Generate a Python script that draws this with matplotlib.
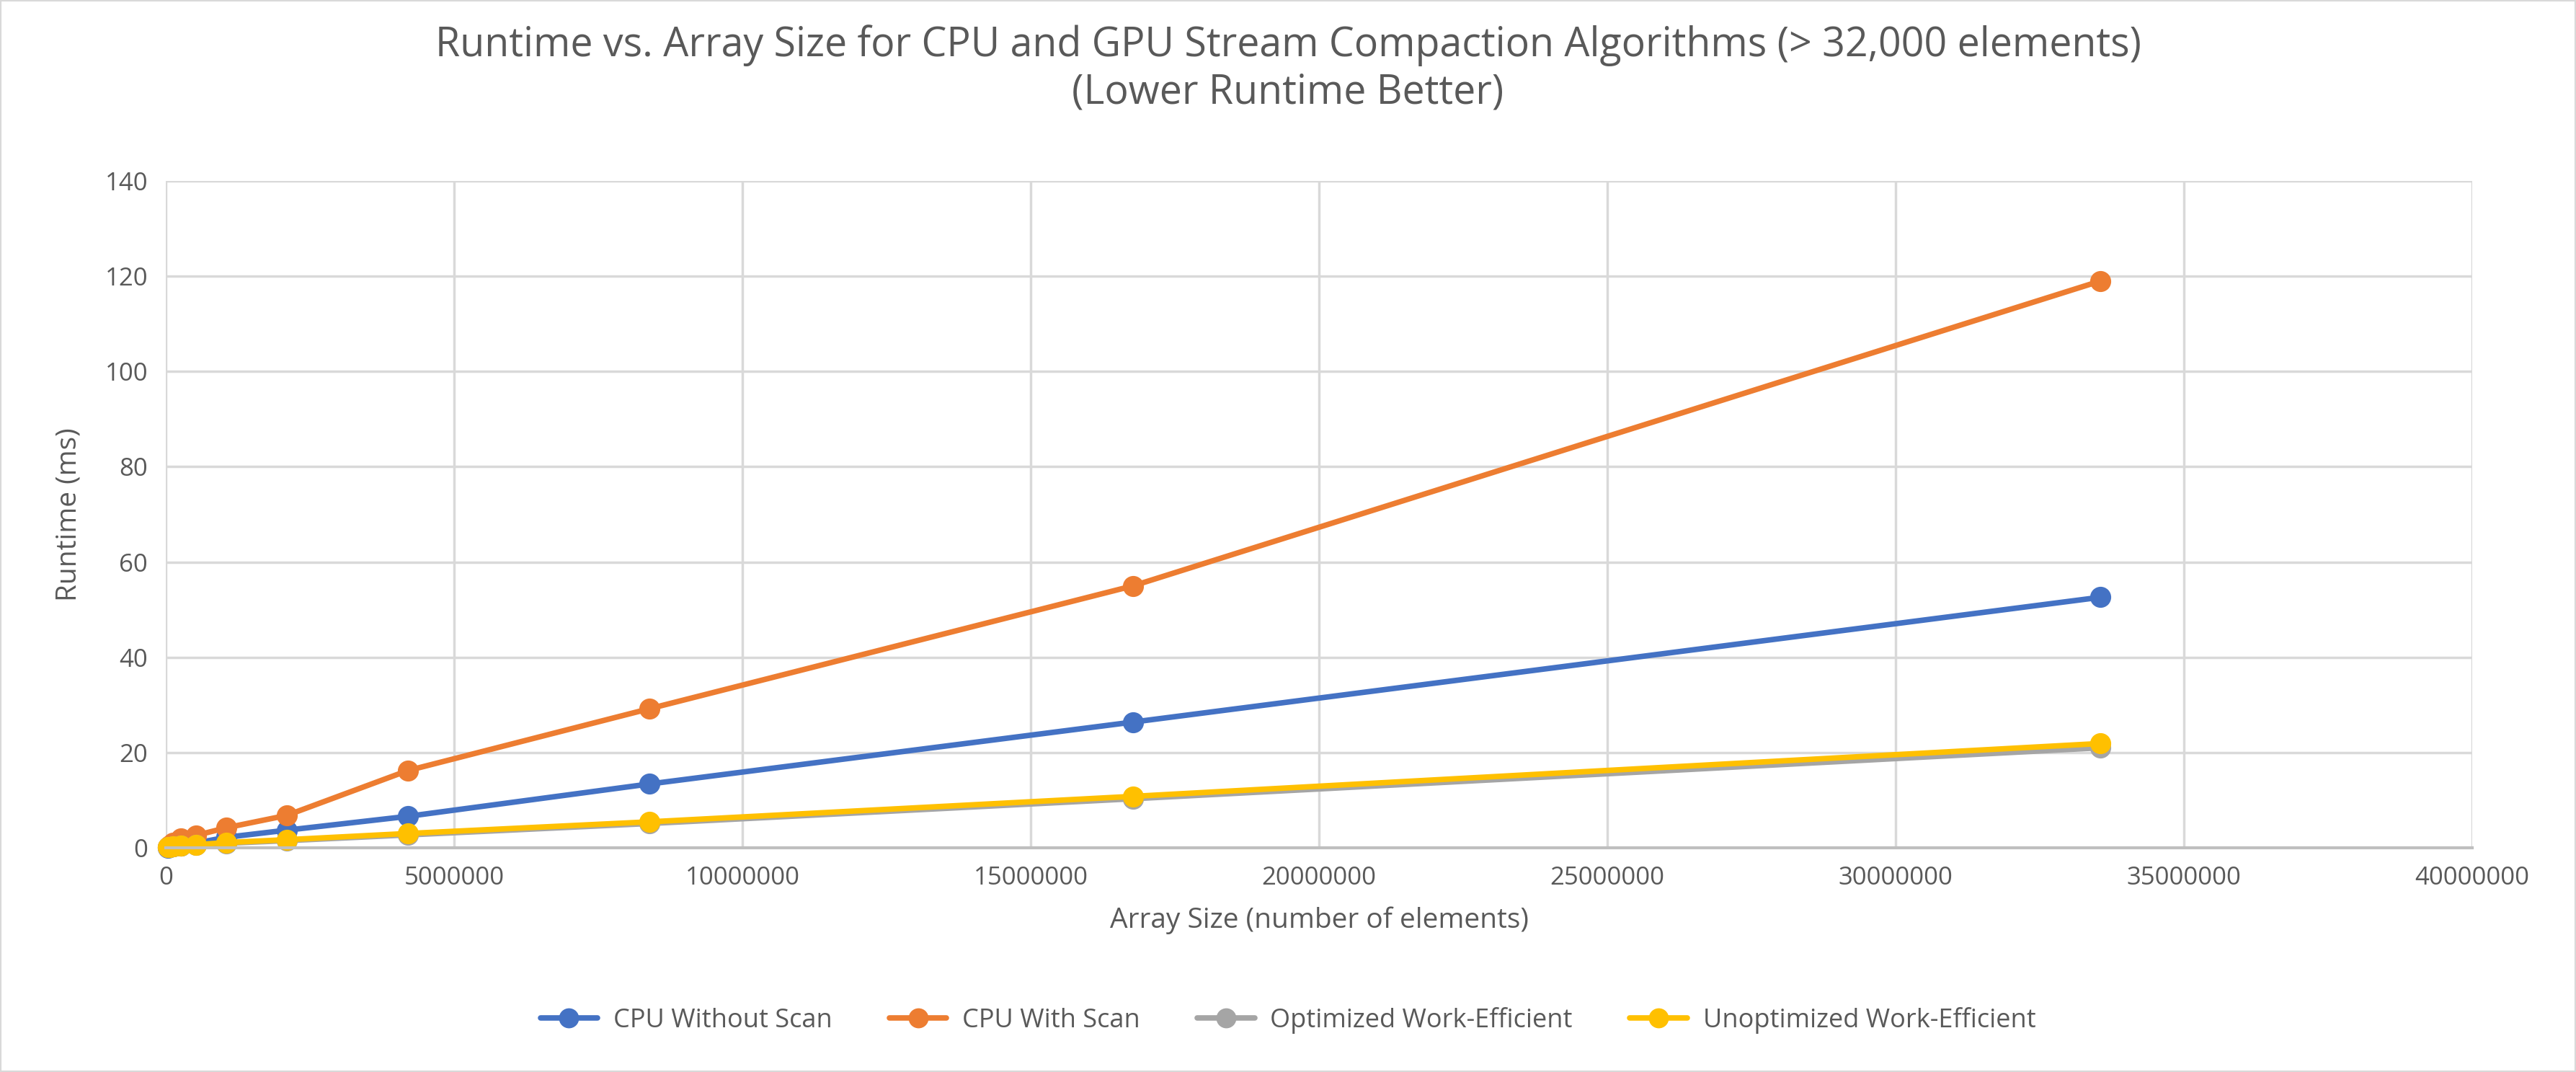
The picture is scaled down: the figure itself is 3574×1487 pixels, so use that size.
import matplotlib.pyplot as plt
from matplotlib.patches import Rectangle
from matplotlib.ticker import FuncFormatter

plt.rcParams['font.family'] = ['Open Sans', 'DejaVu Sans']

sizes = [32768, 65536, 131072, 262144, 524288, 1048576, 2097152,
         4194304, 8388608, 16777216, 33554432]
cpu_no_scan = [0.06, 0.12, 0.25, 0.5, 1.0, 2.2, 3.7, 6.6, 13.4, 26.4, 52.6]
cpu_scan = [0.2, 0.5, 1.0, 2.0, 2.6, 4.2, 6.8, 16.2, 29.2, 55.0, 119.0]
opt_we = [0.1, 0.15, 0.25, 0.4, 0.55, 0.95, 1.5, 2.7, 5.1, 10.3, 21.0]
unopt_we = [0.12, 0.18, 0.3, 0.45, 0.65, 1.1, 1.7, 3.0, 5.45, 10.8, 21.9]

names = ["CPU Without Scan", "CPU With Scan", "Optimized Work-Efficient",
         "Unoptimized Work-Efficient"]
colors = ["#4472C4", "#ED7D31", "#A5A5A5", "#FFC000"]
series = [cpu_no_scan, cpu_scan, opt_we, unopt_we]

fig = plt.figure(figsize=(35.74, 14.87), dpi=100)
ax = fig.add_axes([230 / 3574, 1 - 1176 / 1487, 3200 / 3574, 925 / 1487])

for vals, name, c in zip(series, names, colors):
    ax.plot(sizes, vals, color=c, lw=5.5, marker="o", markersize=20,
            label=name, solid_capstyle="round", clip_on=False)

ax.set_xlim(0, 40000000)
ax.set_ylim(0, 140)
ax.set_xticks(range(0, 40000001, 5000000))
ax.set_yticks(range(0, 141, 20))
ax.xaxis.set_major_formatter(FuncFormatter(lambda v, p: f"{int(v)}"))
ax.grid(True, color="#D9D9D9", lw=2.5)
ax.set_axisbelow(True)
for s in ["top", "right", "left"]:
    ax.spines[s].set_visible(False)
ax.spines["bottom"].set_color("#BFBFBF")
ax.spines["bottom"].set_linewidth(3)
ax.tick_params(length=0, labelsize=25, colors="#595959", pad=18)

ax.set_xlabel("Array Size (number of elements)", fontsize=28, color="#595959", labelpad=16)
ax.set_ylabel("Runtime (ms)", fontsize=28, color="#595959", labelpad=22)

fig.text(0.5, 0.977, "Runtime vs. Array Size for CPU and GPU Stream Compaction Algorithms (> 32,000 elements)\n(Lower Runtime Better)",
         ha="center", va="top", fontsize=40, color="#595959", linespacing=1.2)

fig.legend(loc="center", bbox_to_anchor=(0.5, 0.048), ncol=4, frameon=False,
           fontsize=26, labelcolor="#595959", handlelength=2.2, handletextpad=0.6,
           columnspacing=2.2, markerscale=0.95)

fig.patches.append(Rectangle((0, 0), 1, 1, transform=fig.transFigure, fill=False,
                             edgecolor="#D9D9D9", lw=3))

fig.savefig("out.png", dpi=100, facecolor="white")
